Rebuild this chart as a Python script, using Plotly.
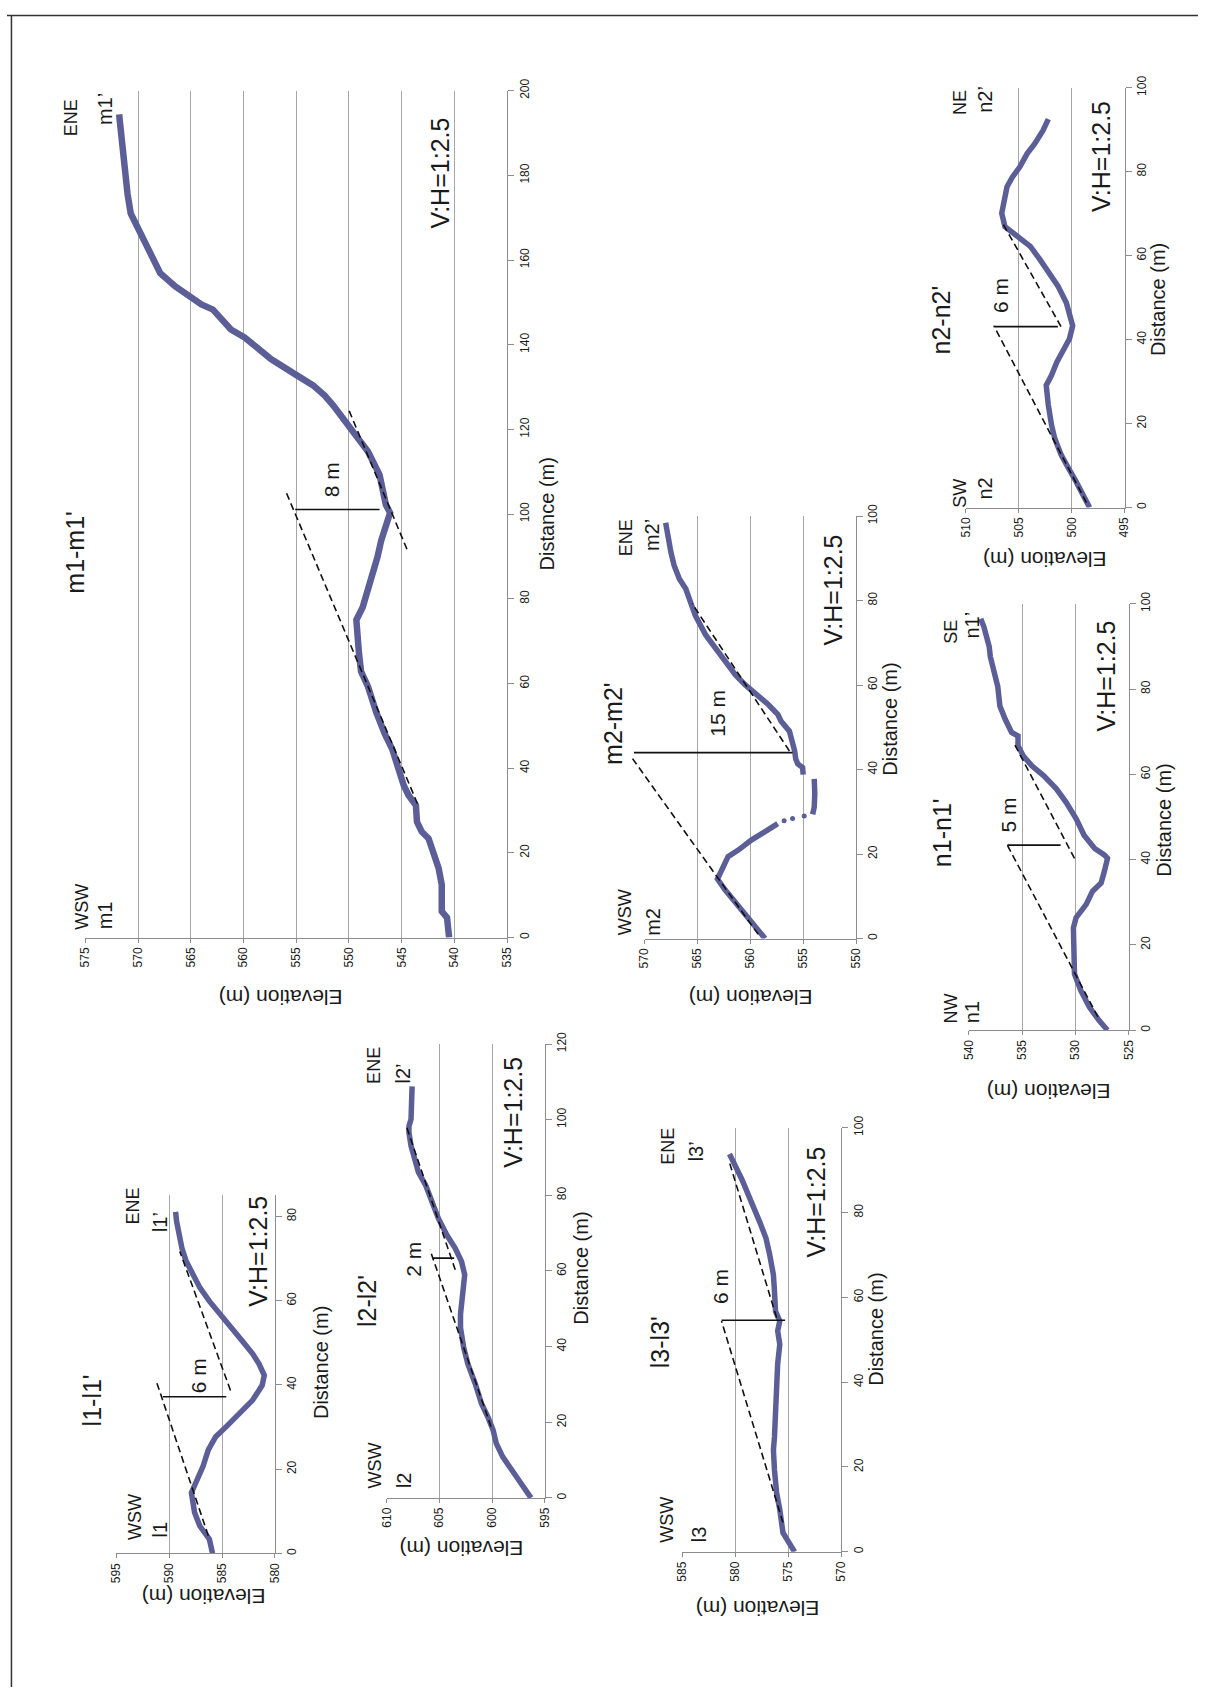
import plotly.graph_objects as go

W, H = 1205, 1689
FONT = "Liberation Sans, Arial, sans-serif"
TEXT = "#1a1a1a"
PROFILE = "#5c5f97"
GRID = "#a6a6a6"
AXIS = "#8c8c8c"

# ---------------- topographic profiles: distance (m) / elevation (m) ----------------
m1_dist = [0, 4.7, 6.2, 12.5, 16.4, 19.9, 23.4, 25.0, 27.3, 31.2, 33.6, 35.9, 41.4, 44.5,
           48.1, 53.1, 59.3, 62.8, 67.1, 71.8, 75.0, 78.0, 84.3, 89.8, 93.7, 97.6, 100.3,
           102.2, 109.3, 114.8, 118.6, 122.2, 125.7, 128.0, 130.4, 132.7, 134.7, 136.6,
           139.3, 141.7, 143.6, 146.4, 148.3, 149.5, 151.8, 153.8, 156.9, 159.3, 163.9,
           167.8, 171.0, 175.6, 181.1, 187.4, 191.2, 194.4]
m1_elev = [540.5, 540.7, 541.2, 541.2, 541.5, 542.0, 542.45, 543.1, 543.55, 543.65, 544.35,
           544.8, 545.6, 545.9, 546.6, 547.4, 548.2, 548.85, 549.05, 549.15, 549.3, 548.7,
           547.9, 547.3, 546.95, 546.35, 546.1, 546.5, 547.1, 548.2, 549.3, 550.4, 551.5,
           552.3, 553.4, 554.9, 556.2, 557.4, 558.7, 559.9, 561.2, 562.1, 562.9, 564.0,
           565.25, 566.5, 567.9, 568.4, 569.3, 570.1, 570.7, 571.0, 571.25, 571.4, 571.65,
           571.8]

m2_dist = [0, 3.8, 7.7, 11.6, 14.1, 16.3, 19.4, 21.0, 23.3, 25.3, 27.2, None,
           29.4, 31.1, 34.3, 36.6, 37.8, None,
           38.8, 40.5, 41.3, 42.5, 44.4, 46.8, 49.1, 51.5, 53.1, 55.4, 57.7, 60.1, 62.4,
           65.6, 68.7, 71.8, 76.5, 79.7, 82.8, 85.1, 88.3, 91.4, 95.3, 98.4]
m2_elev = [558.6, 559.9, 561.1, 562.4, 563.1, 562.7, 562.1, 561.1, 559.9, 558.6, 557.4, None,
           554.1, 553.95, 553.9, 553.9, 553.95, None,
           555.0, 555.05, 555.5, 555.7, 555.8, 556.0, 556.3, 557.1, 557.4, 558.3, 559.4,
           560.5, 561.4, 562.4, 563.3, 564.2, 565.2, 565.6, 566.1, 566.7, 567.2, 567.5,
           567.8, 568.0]
# isolated survey points on the steep inner wall of m2
m2_pts_dist = [27.9, 28.4, 29.0]
m2_pts_elev = [556.8, 556.0, 554.9]

n2_dist = [0, 3.1, 6.3, 9.4, 12.6, 16.5, 19.7, 24.4, 29.1, 31.5, 34.6, 37.4, 40.2, 43.3,
           46.5, 48.8, 52.8, 55.9, 59.1, 62.2, 64.6, 66.9, 70.1, 73.2, 76.4, 78.7, 81.1,
           84.3, 86.6, 89.8, 92.5]
n2_elev = [498.3, 498.9, 499.6, 500.3, 501.0, 501.6, 501.9, 502.2, 502.4, 501.9, 501.4,
           500.8, 500.2, 499.9, 500.2, 500.5, 501.3, 502.1, 503.0, 503.9, 505.2, 506.3,
           506.6, 506.4, 506.1, 505.6, 504.9, 504.2, 503.5, 502.7, 502.2]

n1_dist = [0, 2.3, 5.4, 9.3, 13.2, 18.6, 24.0, 26.4, 29.5, 32.6, 34.5, 37.2, 40.3, 41.1,
           42.6, 45.7, 49.6, 53.5, 56.6, 59.7, 62.0, 64.3, 66.7, 69.0, 69.8, 72.9, 76.0,
           80.6, 84.5, 87.6, 89.9, 92.2, 94.6, 96.5]
n1_elev = [527.0, 527.8, 528.7, 529.5, 530.1, 530.1, 530.2, 529.95, 529.0, 528.4, 527.6,
           527.3, 527.0, 527.3, 528.2, 529.2, 529.95, 530.9, 531.8, 533.0, 534.1, 534.9,
           535.4, 535.4, 536.0, 536.6, 537.1, 537.3, 537.7, 538.0, 538.1, 538.3, 538.6,
           538.9]

l1_dist = [0, 3.4, 6.5, 9.7, 14.4, 17.5, 20.7, 24.6, 27.7, 30.1, 33.2, 36.4, 39.9, 42.3,
           45.0, 47.4, 50.5, 53.7, 56.8, 59.9, 63.1, 66.2, 69.4, 72.5, 75.6, 78.8, 81.1]
l1_elev = [585.9, 586.2, 587.1, 587.6, 587.9, 587.3, 586.8, 586.3, 585.6, 584.6, 583.4,
           582.1, 581.2, 581.0, 581.5, 582.1, 583.1, 584.2, 585.1, 586.2, 587.1, 587.7,
           588.4, 588.8, 589.1, 589.3, 589.4]

l2_dist = [0, 3.1, 6.6, 10.9, 14.4, 17.9, 21.4, 24.9, 30.2, 35.4, 39.8, 45.0, 48.5, 52.9,
           56.4, 59.0, 62.5, 66.0, 69.5, 73.9, 78.2, 82.6, 86.1, 88.7, 93.1, 96.6, 98.3,
           100.1, 103.6, 108.8]
l2_elev = [596.3, 597.1, 598.0, 599.0, 599.6, 599.9, 600.4, 601.0, 601.6, 602.3, 602.7,
           603.0, 603.0, 602.9, 602.7, 602.6, 602.9, 603.5, 604.3, 605.1, 605.7, 606.3,
           607.0, 607.3, 607.7, 607.9, 607.9, 607.7, 607.7, 607.6]

l3_dist = [0, 2.2, 4.5, 10.0, 13.9, 19.3, 24.0, 27.1, 33.4, 38.8, 44.3, 48.9, 52.1, 54.4,
           56.7, 61.4, 65.3, 70.0, 73.9, 77.8, 80.9, 84.0, 87.9, 91.0, 93.8]
l3_elev = [574.4, 574.9, 575.5, 575.8, 576.1, 576.3, 576.4, 576.3, 576.2, 576.1, 576.0,
           575.8, 576.0, 575.8, 576.2, 576.3, 576.4, 576.75, 577.1, 577.7, 578.2, 578.8,
           579.4, 580.0, 580.55]

# ---------------- reconstructed pre-collapse surfaces (dashed) ----------------
ref1_dist = {"m1": [31.6, 105.4], "m2": [1.0, 43.0], "n2": [1.2, 43.3], "n1": [3.1, 43.4],
             "l1": [4.2, 40.7], "l2": [18.8, 65.6], "l3": [6.9, 54.4]}
ref1_elev = {"m1": [543.5, 556.0], "m2": [559.25, 571.25], "n2": [498.6, 507.35],
             "n1": [527.9, 536.4], "l1": [586.3, 591.2], "l2": [600.1, 605.9],
             "l3": [575.5, 581.3]}
ref2_dist = {"m1": [91.7, 124.5], "m2": [44.4, 79.3], "n2": [43.1, 68.1], "n1": [40.3, 67.4],
             "l1": [38.7, 71.7], "l2": [60.3, 97.9], "l3": [55.2, 92.2]}
ref2_elev = {"m1": [544.5, 550.0], "m2": [556.3, 565.5], "n2": [501.0, 506.6],
             "n1": [530.1, 535.8], "l1": [584.2, 589.0], "l2": [603.5, 608.1],
             "l3": [576.1, 580.6]}

# depression depth: position, upper surface and stated depth
gap_dist = {"m1": 101.1, "m2": 44.0, "n2": 43.1, "n1": 43.4, "l1": 37.2, "l2": 63.4, "l3": 54.6}
gap_top = {"m1": 555.1, "m2": 571.0, "n2": 507.3, "n1": 536.4, "l1": 590.6, "l2": 605.6, "l3": 581.3}
gap_depth = {"m1": 8, "m2": 15, "n2": 6, "n1": 5, "l1": 6, "l2": 2, "l3": 6}

directions = {"m1": ("WSW", "ENE"), "m2": ("WSW", "ENE"), "n2": ("SW", "NE"),
              "n1": ("NW", "SE"), "l1": ("WSW", "ENE"), "l2": ("WSW", "ENE"),
              "l3": ("WSW", "ENE")}

profiles = {"m1": (m1_dist, m1_elev), "m2": (m2_dist, m2_elev), "n2": (n2_dist, n2_elev),
            "n1": (n1_dist, n1_elev), "l1": (l1_dist, l1_elev), "l2": (l2_dist, l2_elev),
            "l3": (l3_dist, l3_elev)}

# ---------------- page layout (pixels): plot box, axis ranges, line weight ----------------
panels = [
    dict(key="m1", box=(79.3, 79.3, 506.0, 933.3), erange=(575, 535), dmax=200, lw=6.5),
    dict(key="m2", box=(645.0, 508.3, 859.0, 934.3), erange=(570, 550), dmax=100, lw=5.5),
    dict(key="n2", box=(970.0, 76.3, 1130.7, 499.7), erange=(510, 495), dmax=100, lw=5.5),
    dict(key="n1", box=(973.3, 596.7, 1135.0, 1026.7), erange=(540, 525), dmax=100, lw=5.5),
    dict(key="l1", box=(110.7, 1193.3, 271.0, 1554.3), erange=(595, 580), dmax=85, lw=5.5),
    dict(key="l2", box=(384.3, 1040.7, 544.0, 1498.3), erange=(610, 595), dmax=120, lw=5.5),
    dict(key="l3", box=(683.3, 1125.0, 844.0, 1552.7), erange=(585, 570), dmax=100, lw=5.5),
]

# label placement (pixel centres)
label_pos = {
    "m1": dict(title=(69, 545), dist=(546, 506), elev=(277, 993), vh=(438, 162), gap=(328, 472),
               sdir=(75, 902), spt=(100, 911), edir=(65, 107), ept=(99, 98)),
    "m2": dict(title=(613, 717), dist=(893, 713), elev=(752, 993), vh=(836, 583), gap=(718, 707),
               sdir=(626, 908), spt=(654, 917), edir=(626, 530), ept=(652, 527)),
    "n2": dict(title=(945, 311), dist=(1164, 290), elev=(1050, 552), vh=(1107, 146), gap=(1005, 286),
               sdir=(964, 485), spt=(990, 480), edir=(964, 91), ept=(990, 88)),
    "n1": dict(title=(946, 828), dist=(1171, 815), elev=(1054, 1088), vh=(1112, 670), gap=(1013, 810),
               sdir=(955, 1005), spt=(976, 1009), edir=(955, 625), ept=(976, 618)),
    "l1": dict(title=(86, 1400), dist=(317, 1362), elev=(199, 1597), vh=(254, 1250), gap=(194, 1375),
               sdir=(130, 1517), spt=(155, 1530), edir=(128, 1204), ept=(155, 1220)),
    "l2": dict(title=(364, 1300), dist=(581, 1267), elev=(460, 1550), vh=(512, 1110), gap=(411, 1258),
               sdir=(372, 1466), spt=(401, 1480), edir=(372, 1062), ept=(401, 1070)),
    "l3": dict(title=(661, 1341), dist=(879, 1328), elev=(759, 1610), vh=(819, 1200), gap=(722, 1285),
               sdir=(668, 1520), spt=(700, 1535), edir=(668, 1144), ept=(698, 1149)),
}


def note(text, pos, size, angle=-90):
    px, py = pos
    return dict(text=text, x=px / W, y=1 - py / H, xref="paper", yref="paper",
                showarrow=False, textangle=angle, xanchor="center", yanchor="middle",
                font=dict(size=size, family=FONT, color=TEXT))


fig = go.Figure()
annotations = []
layout_axes = {}
TICKFONT = dict(size=12, family=FONT, color=TEXT)

for i, p in enumerate(panels, start=1):
    k = p["key"]
    left, top, right, bottom = p["box"]
    emax, emin = p["erange"]
    xa, ya = f"x{i}", f"y{i}"
    xname = "xaxis" if i == 1 else f"xaxis{i}"
    yname = "yaxis" if i == 1 else f"yaxis{i}"

    layout_axes[xname] = dict(
        domain=[left / W, right / W], range=[emax, emin], anchor=ya,
        tickmode="linear", tick0=emin, dtick=5, tickangle=-90,
        showgrid=True, gridcolor=GRID, gridwidth=1, zeroline=False,
        showline=True, linecolor=AXIS, linewidth=1,
        ticks="outside", ticklen=4, tickcolor=AXIS,
        tickfont=TICKFONT, fixedrange=True)
    layout_axes[yname] = dict(
        domain=[1 - bottom / H, 1 - top / H], range=[0, p["dmax"]], anchor=xa,
        side="right", tickmode="linear", tick0=0, dtick=20, tickangle=-90,
        showgrid=False, zeroline=False, showline=True, linecolor=AXIS, linewidth=1,
        ticks="outside", ticklen=6, tickcolor=AXIS,
        tickfont=TICKFONT, fixedrange=True)

    # dashed and measuring lines of m2 rise above the 570 m gridline: give them a
    # hidden axis with the same scale but a little more room on the high side
    lx = xa
    if k == "m2":
        room = 24.0
        per_m = (right - left) / (emax - emin)
        layout_axes["xaxis8"] = dict(
            domain=[(left - room) / W, right / W], range=[emax + room / per_m, emin],
            anchor=ya, visible=False, fixedrange=True)
        lx = "x8"

    dist, elev = profiles[k]
    fig.add_trace(go.Scatter(x=elev, y=dist, mode="lines", xaxis=xa, yaxis=ya,
                             line=dict(color=PROFILE, width=p["lw"]), connectgaps=False,
                             hoverinfo="skip", showlegend=False))
    if k == "m2":
        fig.add_trace(go.Scatter(x=m2_pts_elev, y=m2_pts_dist, mode="markers", xaxis=xa, yaxis=ya,
                                 marker=dict(color=PROFILE, size=5), hoverinfo="skip",
                                 showlegend=False))

    for rd, re in ((ref1_dist[k], ref1_elev[k]), (ref2_dist[k], ref2_elev[k])):
        fig.add_trace(go.Scatter(x=re, y=rd, mode="lines", xaxis=lx, yaxis=ya,
                                 line=dict(color="#111111", width=1.6, dash="7px,4px"),
                                 hoverinfo="skip", showlegend=False))

    g_top = gap_top[k]
    fig.add_trace(go.Scatter(x=[g_top, g_top - gap_depth[k]], y=[gap_dist[k], gap_dist[k]],
                             mode="lines", xaxis=lx, yaxis=ya,
                             line=dict(color="#111111", width=1.6),
                             hoverinfo="skip", showlegend=False))

    lp = label_pos[k]
    sdir, edir = directions[k]
    annotations += [
        note(f"{k}-{k}'", lp["title"], 25),
        note("Distance (m)", lp["dist"], 20),
        note("Elevation (m)", lp["elev"], 21, angle=180),
        note("V:H=1:2.5", lp["vh"], 25),
        note(f"{gap_depth[k]} m", lp["gap"], 21),
        note(sdir, lp["sdir"], 18),
        note(k, lp["spt"], 20),
        note(edir, lp["edir"], 18),
        note(f"{k}\u2019", lp["ept"], 20),
    ]

# page frame
shapes = [
    dict(type="line", xref="paper", yref="paper", x0=0, x1=1, y0=1 - 3.5 / H, y1=1 - 3.5 / H,
         line=dict(color="#333333", width=1.5)),
    dict(type="line", xref="paper", yref="paper", x0=4.5 / W, x1=4.5 / W, y0=0, y1=1 - 3.5 / H,
         line=dict(color="#333333", width=1.5)),
]

fig.update_layout(
    width=W, height=H, margin=dict(l=0, r=0, t=0, b=0),
    paper_bgcolor="white", plot_bgcolor="rgba(0,0,0,0)",
    showlegend=False, annotations=annotations, shapes=shapes,
    font=dict(family=FONT, color=TEXT),
    **layout_axes,
)

fig.write_html("out.html", include_plotlyjs=True, config={"displayModeBar": False})
